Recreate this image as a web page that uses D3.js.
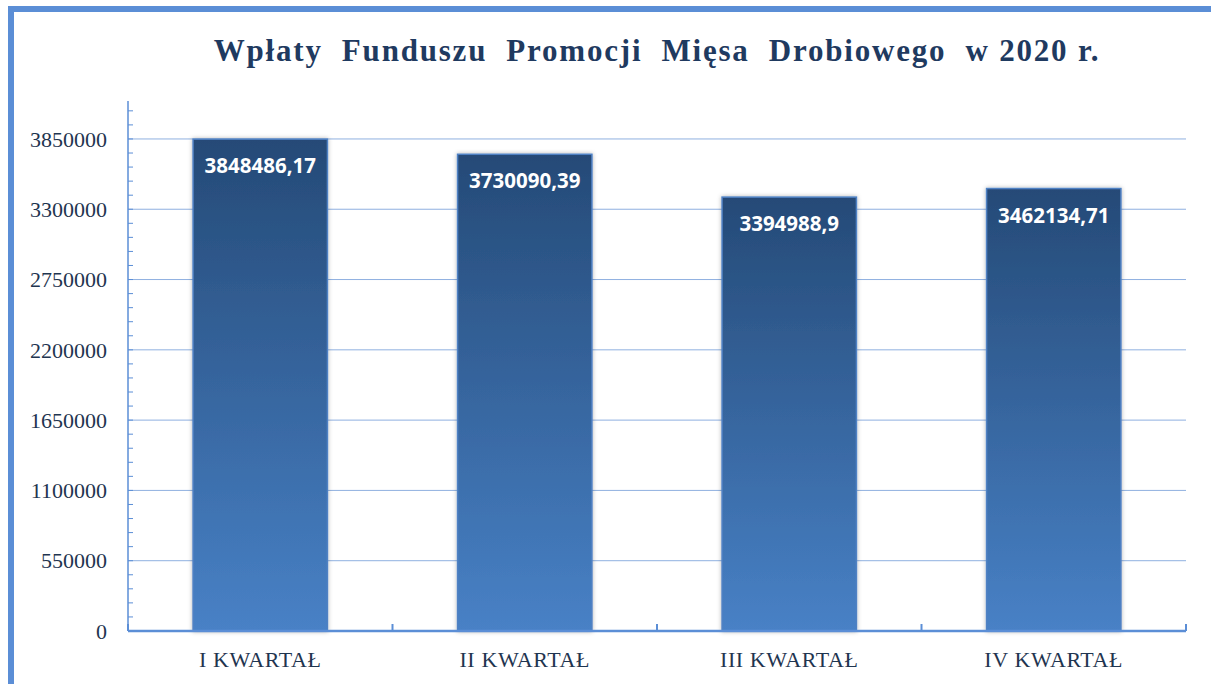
<!DOCTYPE html>
<html lang="pl">
<head>
<meta charset="utf-8">
<title>Wpłaty Funduszu Promocji Mięsa Drobiowego w 2020 r.</title>
<script src="https://d3js.org/d3.v7.min.js"></script>
<style>
  body { margin: 0; background: #fff; }
  svg { display: block; }
</style>
</head>
<body>
<div id="chart"></div>
<script>
// data
var categories = ["I KWARTAŁ", "II KWARTAŁ", "III KWARTAŁ", "IV KWARTAŁ"];
var values = [3848486.17, 3730090.39, 3394988.9, 3462134.71];
var valueLabels = ["3848486,17", "3730090,39", "3394988,9", "3462134,71"];
var yTicks = [0, 550000, 1100000, 1650000, 2200000, 2750000, 3300000, 3850000];
var titleText = "Wpłaty  Funduszu  Promocji  Mięsa  Drobiowego  w 2020 r.";

var W = 1211, H = 684;
var plotLeft = 128, plotRight = 1186, plotTop = 101, plotBottom = 631;
var serif = "'Liberation Serif', 'Times New Roman', serif";

var svg = d3.select("#chart").append("svg")
  .attr("width", W).attr("height", H);

// frame
svg.append("rect").attr("x", 0).attr("y", 0).attr("width", W).attr("height", H).attr("fill", "#fff");
svg.append("rect").attr("x", 8).attr("y", 6).attr("width", W - 8).attr("height", 6).attr("fill", "#5B8ED6");
svg.append("rect").attr("x", 8).attr("y", 6).attr("width", 6).attr("height", H - 6).attr("fill", "#5B8ED6");

var defs = svg.append("defs");
var grad = defs.append("linearGradient").attr("id", "barGrad")
  .attr("x1", 0).attr("y1", 0).attr("x2", 0).attr("y2", 1);
grad.append("stop").attr("offset", "0%").attr("stop-color", "#254A77");
grad.append("stop").attr("offset", "100%").attr("stop-color", "#4881C6");

var shadow = defs.append("filter").attr("id", "shadow")
  .attr("x", "-10%").attr("y", "-10%").attr("width", "120%").attr("height", "120%");
shadow.append("feDropShadow").attr("dx", 0).attr("dy", 0).attr("stdDeviation", 2)
  .attr("flood-color", "#000").attr("flood-opacity", 0.3);

var x = d3.scaleBand().domain(categories).range([plotLeft, plotRight]).padding(0);
var y = d3.scaleLinear().domain([0, 4147000]).range([plotBottom, plotTop]);

// gridlines
svg.append("g").selectAll("line").data(yTicks.slice(1)).join("line")
  .attr("x1", plotLeft).attr("x2", plotRight)
  .attr("y1", function(d) { return y(d); }).attr("y2", function(d) { return y(d); })
  .attr("stroke", "#8FB0E0").attr("stroke-width", 1);

// y axis with minor ticks
var minor = d3.range(0, 4147000, 110000);
var yAxis = svg.append("g").attr("transform", "translate(" + plotLeft + ",0)");
yAxis.append("line").attr("x1", 0).attr("x2", 0).attr("y1", plotTop).attr("y2", plotBottom)
  .attr("stroke", "#5B8ED6").attr("stroke-width", 1.5);
yAxis.selectAll("line.minor").data(minor).join("line").attr("class", "minor")
  .attr("x1", 0).attr("x2", 5)
  .attr("y1", function(d) { return y(d); }).attr("y2", function(d) { return y(d); })
  .attr("stroke", "#5B8ED6").attr("stroke-width", 1);
yAxis.selectAll("text").data(yTicks).join("text")
  .attr("x", -21).attr("y", function(d) { return y(d); })
  .attr("dy", "0.35em").attr("text-anchor", "end")
  .attr("font-family", serif)
  .attr("font-size", 22).attr("fill", "#1F3550")
  .text(function(d) { return d; });

// bars
var barW = x.bandwidth() * 0.508;
var bars = svg.append("g").selectAll("g").data(values).join("g");
bars.append("rect")
  .attr("x", function(d, i) { return x(categories[i]) + (x.bandwidth() - barW) / 2; })
  .attr("y", function(d) { return y(d); })
  .attr("width", barW)
  .attr("height", function(d) { return plotBottom - y(d); })
  .attr("fill", "url(#barGrad)")
  .attr("stroke", "#4F81C4").attr("stroke-width", 1.5)
  .attr("filter", "url(#shadow)");
bars.append("text")
  .attr("x", function(d, i) { return x(categories[i]) + x.bandwidth() / 2; })
  .attr("y", function(d) { return y(d) + 34; })
  .attr("text-anchor", "middle")
  .attr("font-family", "'Open Sans', 'Noto Sans', sans-serif")
  .attr("font-weight", "bold").attr("font-size", 20.5).attr("fill", "#fff")
  .text(function(d, i) { return valueLabels[i]; });

// x axis
var xAxis = svg.append("g");
xAxis.append("line").attr("x1", plotLeft).attr("x2", plotRight).attr("y1", plotBottom).attr("y2", plotBottom)
  .attr("stroke", "#5B8ED6").attr("stroke-width", 2.5);
var edges = categories.map(function(c) { return x(c); }).concat([plotRight]);
xAxis.selectAll("line.tick").data(edges).join("line").attr("class", "tick")
  .attr("x1", function(d) { return d; }).attr("x2", function(d) { return d; })
  .attr("y1", plotBottom).attr("y2", plotBottom - 7)
  .attr("stroke", "#5B8ED6").attr("stroke-width", 2);
xAxis.selectAll("text").data(categories).join("text")
  .attr("x", function(d) { return x(d) + x.bandwidth() / 2; })
  .attr("y", 667).attr("text-anchor", "middle")
  .attr("font-family", serif)
  .attr("font-size", 22).attr("fill", "#1F3550")
  .attr("letter-spacing", 0.6)
  .text(function(d) { return d; });

// title
svg.append("text")
  .attr("x", (plotLeft + plotRight) / 2).attr("y", 61)
  .attr("text-anchor", "middle")
  .attr("font-family", serif)
  .attr("font-weight", "bold").attr("font-size", 31).attr("fill", "#1F3A60")
  .attr("letter-spacing", 1.8)
  .style("white-space", "pre")
  .text(titleText);
</script>
</body>
</html>
